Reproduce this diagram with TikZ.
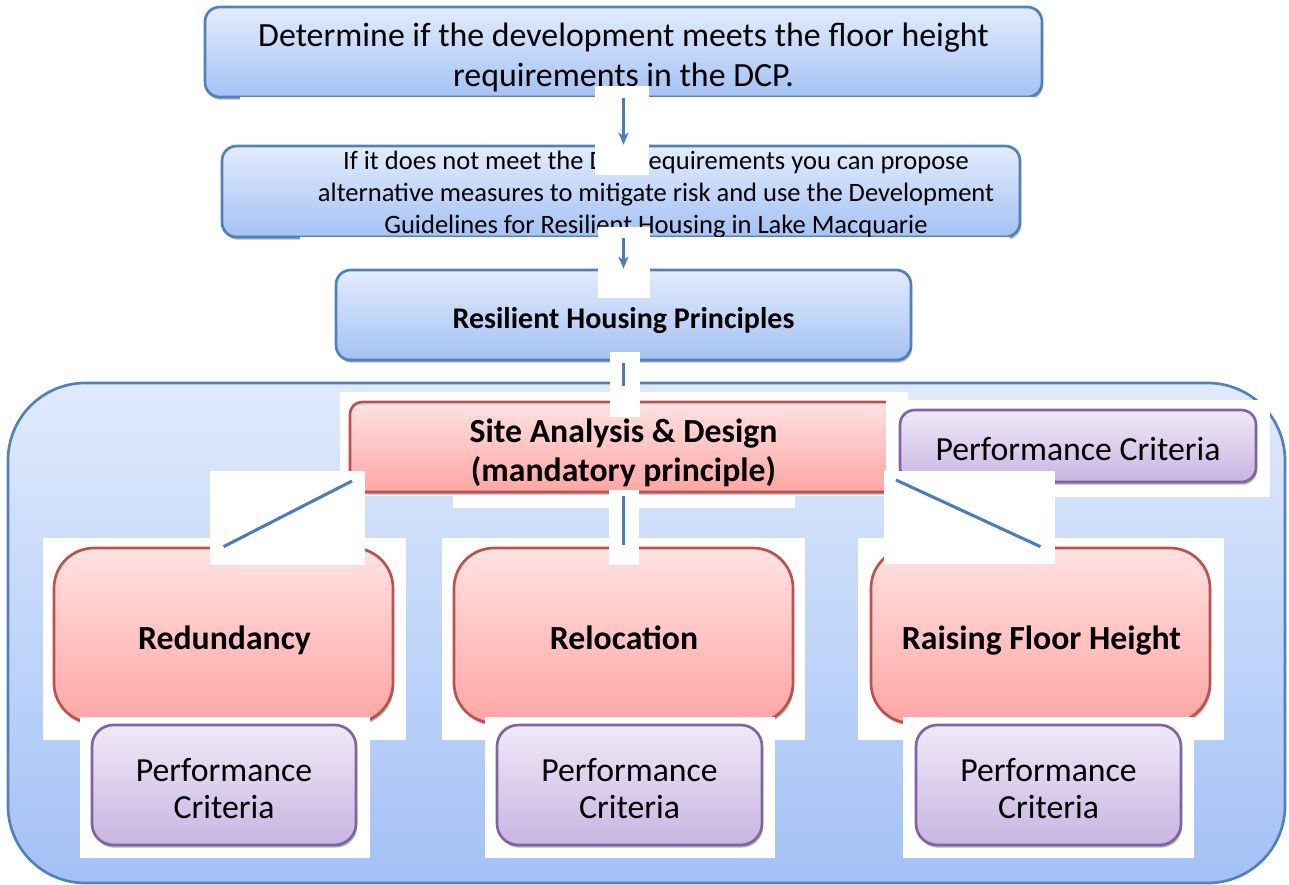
\documentclass[tikz,border=0pt]{standalone}
\usepackage{fontspec}
\setmainfont{Carlito}
\usetikzlibrary{arrows.meta,shadows}
\definecolor{edgeblue}{HTML}{4F81BD}
\definecolor{blueT}{HTML}{E2ECFC}
\definecolor{blueB}{HTML}{A4C2F4}
\definecolor{contT}{HTML}{E0EAFC}
\definecolor{contB}{HTML}{A3C1F6}
\definecolor{redT}{HTML}{FFE2E2}
\definecolor{redB}{HTML}{FFA6A4}
\definecolor{edgered}{HTML}{C0504D}
\definecolor{purT}{HTML}{EFE9F7}
\definecolor{purB}{HTML}{C9B5E2}
\definecolor{edgepur}{HTML}{8064A2}
\definecolor{linkblue}{HTML}{4A7EBB}
\begin{document}
\begin{tikzpicture}[x=0.75pt,y=-0.75pt,
  shade/.style={drop shadow={shadow xshift=0.8pt,shadow yshift=-2pt,opacity=0.3,fill=black}},
  bluebox/.style={draw=edgeblue,line width=2pt,rounded corners=11pt,top color=blueT,bottom color=blueB,shade,inner sep=0pt},
  contbox/.style={draw=edgeblue,line width=2pt,rounded corners=58pt,top color=contT,bottom color=contB,inner sep=0pt},
  redbox/.style={draw=edgered,line width=2pt,top color=redT,bottom color=redB,shade,inner sep=0pt},
  purbox/.style={draw=edgepur,line width=2pt,top color=purT,bottom color=purB,shade,inner sep=0pt},
  patch/.style={fill=white,draw=none},
  link/.style={draw=linkblue,line width=2.3pt},
  arrowlink/.style={link,-{Stealth[length=9pt,width=7.5pt,inset=2.5pt]}},
  txt/.style={inner sep=0pt,align=center},
  bigtext/.style={txt,font=\fontsize{25.4pt}{30pt}\selectfont},
  boldtext/.style={txt,font=\fontsize{25.3pt}{29.25pt}\selectfont\bfseries},
  pctext/.style={txt,font=\fontsize{25.3pt}{27.5pt}\selectfont},
  midtext/.style={txt,font=\fontsize{19.9pt}{24pt}\selectfont}
]
\useasboundingbox (0,0) rectangle (1289,885);

% container region
\node[contbox,minimum width=957.75pt,minimum height=375pt] (region) at (646.5,633) {};

% top boxes
\node[bluebox,minimum width=627.75pt,minimum height=67.5pt] (b1) at (623.5,52) {};
\node[bigtext] (b1t) at ([yshift=-3.75pt]b1.center)
  {Determine if the development meets the floor height\\requirements in the DCP.};
\fill[patch] (240,97) rectangle (1035,103);
\node[bluebox,minimum width=598.5pt,minimum height=68.25pt] (b2) at (621,191.5) {};
\node[midtext] (b2t) at (656,194.5)
  {If it does not meet the DCP requirements you can propose\\alternative measures to mitigate risk and use the Development\\Guidelines for Resilient Housing in Lake Macquarie};
\fill[patch] (300,237) rectangle (1010,243);
\node[bluebox,minimum width=431.25pt,minimum height=67.5pt] (b3) at (623.5,315) {};
\node[txt,font=\fontsize{22.5pt}{27pt}\selectfont\bfseries] (b3t) at ([yshift=-4.5pt]b3.center)
  {Resilient Housing Principles};

% site analysis
\fill[patch] (340,392) rectangle (908,496);
\fill[patch] (453,495) rectangle (795,508);
\node[redbox,rounded corners=9pt,minimum width=410.25pt,minimum height=67.5pt] (site) at (623.5,447) {};
\node[boldtext] (sitet) at ([yshift=-4.5pt]site.center)
  {Site Analysis \& Design\\(mandatory principle)};
\fill[patch] (886,400) rectangle (1270,497);
\node[purbox,rounded corners=11pt,minimum width=267pt,minimum height=54pt] (pctop) at (1078,446) {};
\node[pctext] (pctopt) at ([yshift=-2.25pt]pctop.center) {Performance Criteria};

% principle boxes
\fill[patch] (43,538) rectangle (406,740);
\fill[patch] (442,538) rectangle (805,740);
\fill[patch] (858,538) rectangle (1224,740);
\node[redbox,rounded corners=30pt,minimum width=254.25pt,minimum height=131.25pt] (red1) at (223.5,635.5) {};
\node[redbox,rounded corners=30pt,minimum width=254.25pt,minimum height=131.25pt] (red2) at (623.5,635.5) {};
\node[redbox,rounded corners=30pt,minimum width=254.25pt,minimum height=131.25pt] (red3) at (1040.5,635.5) {};
\node[boldtext,anchor=base] (red1t) at (224.5,649) {Redundancy};
\node[boldtext,anchor=base] (red2t) at (624,649) {Relocation};
\node[boldtext,anchor=base] (red3t) at (1041.5,649) {Raising Floor Height};

\fill[patch] (80,717) rectangle (370,858);
\fill[patch] (485,717) rectangle (775,858);
\fill[patch] (903,717) rectangle (1194,858);
\node[purbox,rounded corners=16pt,minimum width=198pt,minimum height=90pt] (pc1) at (224,785) {};
\node[purbox,rounded corners=16pt,minimum width=198.75pt,minimum height=90pt] (pc2) at (629.5,785) {};
\node[purbox,rounded corners=16pt,minimum width=198.75pt,minimum height=90pt] (pc3) at (1048.5,785) {};
\node[pctext] (pc1t) at ([yshift=-2.6pt]pc1.center) {Performance\\Criteria};
\node[pctext] (pc2t) at ([yshift=-2.6pt]pc2.center) {Performance\\Criteria};
\node[pctext] (pc3t) at ([yshift=-2.6pt]pc3.center) {Performance\\Criteria};

% connector patches
\fill[patch] (595,86) rectangle (649,175);
\fill[patch] (598,227) rectangle (650,298);
\fill[patch] (610,352) rectangle (640,417);
\fill[patch] (210,471) rectangle (365,565);
\fill[patch] (884,471) rectangle (1055,564);
\fill[patch] (609,490) rectangle (639,565);

% connectors
\coordinate (sl) at (352,481);
\coordinate (sr) at (896,480);
\draw[arrowlink] (b1.south) -- (b1.south |- b2.north);
\draw[arrowlink] (b2.south -| b3.north) -- (b3.north);
\draw[link] ([yshift=-1.5pt]b3.south) -- ([yshift=11pt]site.north);
\draw[link] (sl) -- (red1.north);
\draw[link] (sr) -- (red3.north);
\draw[link] ([yshift=-2pt]site.south) -- ([yshift=1.5pt]red2.north);
\end{tikzpicture}
\end{document}
